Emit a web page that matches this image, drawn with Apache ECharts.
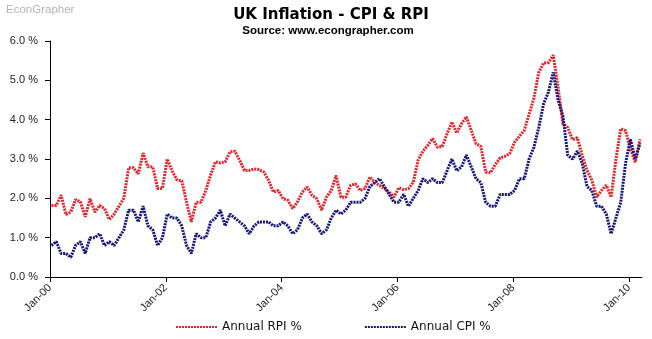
<!DOCTYPE html>
<html>
<head>
<meta charset="utf-8">
<script src="https://cdn.jsdelivr.net/npm/echarts@6/dist/echarts.min.js"></script>
<style>
  html, body { margin: 0; padding: 0; background: #fff; }
  #chart { width: 652px; height: 339px; }
</style>
</head>
<body>
<div id="chart"></div>
<script>
// Monthly annual inflation rates, Jan 2000 – Mar 2010 (%)
const rpi = [
  1.82, 1.82, 2.08, 1.59, 1.65, 1.97, 1.91, 1.53, 1.99, 1.65, 1.82, 1.74,
  1.46, 1.60, 1.80, 2.00, 2.78, 2.78, 2.62, 3.15, 2.80, 2.80, 2.25, 2.25,
  3.00, 2.70, 2.47, 2.45, 1.90, 1.40, 1.90, 1.90, 2.20, 2.60, 2.93, 2.90,
  2.93, 3.18, 3.20, 2.97, 2.71, 2.71, 2.75, 2.73, 2.67, 2.46, 2.16, 2.20,
  1.99, 1.95, 1.74, 1.91, 2.16, 2.29, 2.08, 1.99, 1.70, 2.03, 2.20, 2.58,
  2.03, 2.03, 2.33, 2.37, 2.20, 2.25, 2.54, 2.41, 2.33, 2.25, 2.16, 2.03,
  2.27, 2.22, 2.25, 2.41, 2.97, 3.20, 3.35, 3.52, 3.30, 3.32, 3.64, 3.94,
  3.66, 3.90, 4.07, 3.73, 3.39, 3.32, 2.67, 2.65, 2.86, 3.03, 3.07, 3.14,
  3.43, 3.58, 3.73, 4.14, 4.55, 5.20, 5.44, 5.45, 5.64, 4.83, 3.90, 3.80,
  3.49, 3.54, 3.09, 2.71, 2.46, 2.03, 2.20, 2.33, 2.03, 3.00, 3.77, 3.72,
  3.25, 2.92, 3.50
];
const cpi = [
  0.8, 0.9, 0.6, 0.6, 0.5, 0.8, 0.9, 0.6, 1.0, 1.0, 1.1, 0.8,
  0.9, 0.8, 1.0, 1.2, 1.7, 1.7, 1.4, 1.8, 1.3, 1.2, 0.8, 1.0,
  1.6, 1.5, 1.5, 1.3, 0.8, 0.6, 1.1, 1.0, 1.0, 1.4, 1.5, 1.7,
  1.3, 1.6, 1.5, 1.4, 1.3, 1.1, 1.3, 1.4, 1.4, 1.4, 1.3, 1.3,
  1.4, 1.3, 1.1, 1.2, 1.5, 1.6, 1.4, 1.3, 1.1, 1.2, 1.5, 1.7,
  1.6, 1.7, 1.9, 1.9, 1.9, 2.0, 2.3, 2.4, 2.5, 2.3, 2.1, 1.9,
  1.9, 2.1, 1.8, 2.0, 2.2, 2.5, 2.4, 2.5, 2.4, 2.4, 2.7, 3.0,
  2.7, 2.8, 3.1, 2.8, 2.5, 2.4, 1.9, 1.8, 1.8, 2.1, 2.1, 2.1,
  2.2, 2.5, 2.5, 3.0, 3.3, 3.8, 4.4, 4.7, 5.2, 4.5, 4.1, 3.1,
  3.0, 3.2, 2.9, 2.3, 2.2, 1.8, 1.8, 1.6, 1.1, 1.5, 1.9, 2.9,
  3.5, 3.0, 3.4
];
// x-axis ticks: months since Jan 2000, and their labels
const tickMonths = [0, 24, 48, 72, 96, 120];
const tickLabels = ['Jan-00', 'Jan-02', 'Jan-04', 'Jan-06', 'Jan-08', 'Jan-10'];
const seriesNames = ['Annual RPI %', 'Annual CPI %'];

// each monthly observation sits a little after the start of its month
const toPoints = arr => arr.map((v, i) => [i + 0.3, v]);

const chart = echarts.init(document.getElementById('chart'), null, { renderer: 'canvas' });

chart.setOption({
  backgroundColor: '#ffffff',
  animation: false,
  title: [
    {
      text: 'EconGrapher', left: 6, top: 4, padding: 0,
      textStyle: { fontFamily: 'Liberation Sans', fontSize: 11.5, fontWeight: 'normal', color: '#b4b4b4' }
    },
    {
      text: 'UK Inflation - CPI & RPI', left: 331, top: 8, padding: 0, textAlign: 'center',
      textStyle: { fontFamily: 'DejaVu Sans', fontSize: 15, fontWeight: 'bold', color: '#000' }
    },
    {
      text: 'Source: www.econgrapher.com', left: 328, top: 25, padding: 0, textAlign: 'center',
      textStyle: { fontFamily: 'Liberation Sans', fontSize: 11.5, fontWeight: 'bold', color: '#000' }
    }
  ],
  legend: {
    left: 175, top: 321, padding: 0,
    itemWidth: 41, itemHeight: 14, itemGap: 62,
    itemStyle: { opacity: 0 },
    textStyle: { fontFamily: 'DejaVu Sans', fontSize: 12, color: '#111' },
    data: seriesNames
  },
  grid: { left: 50, right: 10, top: 41, bottom: 62 },
  xAxis: {
    type: 'value', min: 0, max: 122.7, interval: 24,
    splitLine: { show: false },
    axisLine: { lineStyle: { color: '#000', width: 1 } },
    axisTick: { show: true, length: 5, lineStyle: { color: '#000' }, customValues: tickMonths },
    axisLabel: {
      customValues: tickMonths,
      rotate: 45, margin: 9,
      fontFamily: 'Liberation Sans', fontSize: 11, color: '#222',
      formatter: v => tickLabels[tickMonths.indexOf(Math.round(v))] || ''
    }
  },
  yAxis: {
    type: 'value', min: 0, max: 6, interval: 1,
    splitLine: { show: false },
    axisLine: { show: true, lineStyle: { color: '#000', width: 1 } },
    axisTick: { show: true, length: 5, lineStyle: { color: '#000' } },
    axisLabel: {
      margin: 12, fontFamily: 'Liberation Sans', fontSize: 11, color: '#222',
      formatter: v => v.toFixed(1) + ' %'
    }
  },
  series: [
    {
      name: seriesNames[0], type: 'line', symbol: 'none',
      data: toPoints(rpi),
      itemStyle: { color: '#e4232b' },
      lineStyle: { color: '#e4232b', width: 3, type: [2, 1] }
    },
    {
      name: seriesNames[1], type: 'line', symbol: 'none',
      data: toPoints(cpi),
      itemStyle: { color: '#141478' },
      lineStyle: { color: '#141478', width: 3, type: [2, 1] }
    }
  ]
});
</script>
</body>
</html>
